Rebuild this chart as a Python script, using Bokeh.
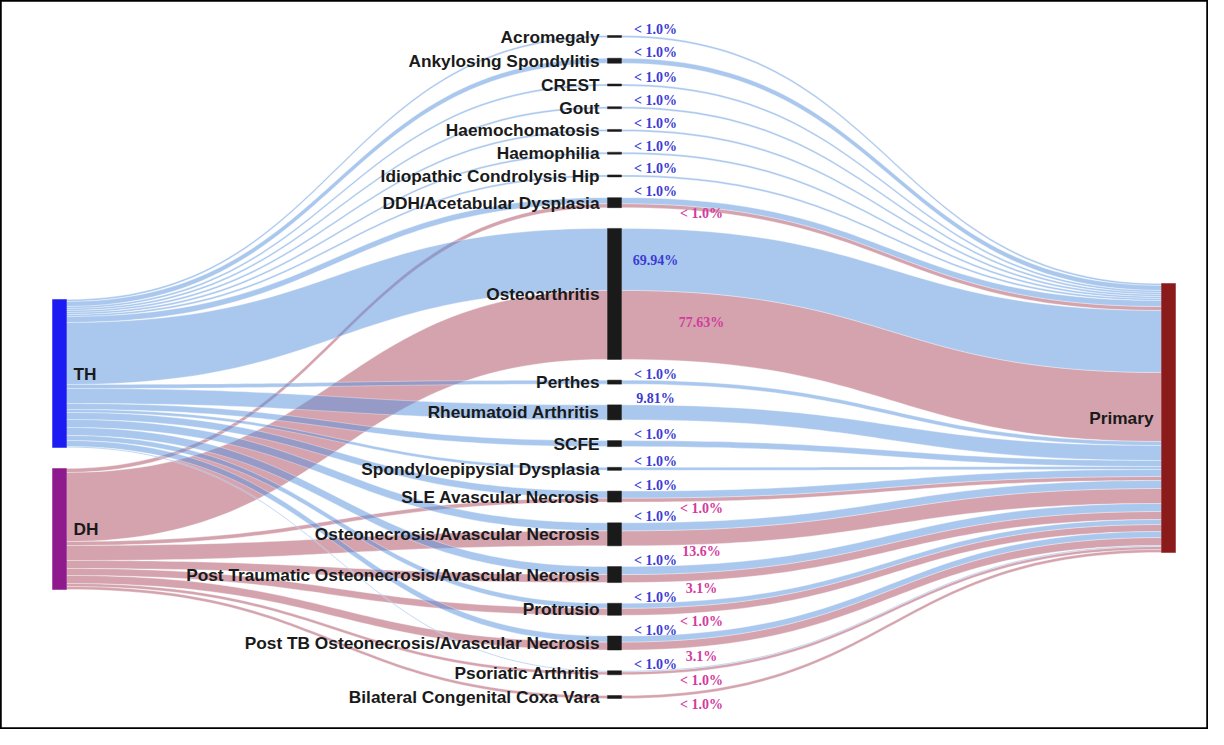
import numpy as np
from bokeh.plotting import figure
from bokeh.models import Range1d, ColumnDataSource
from bokeh.core.properties import value
from bokeh.embed import file_html
from bokeh.resources import INLINE

# ---------------- data ----------------
source_names = ["TH", "DH"]
target_name = "Primary"
categories = [
    "Acromegaly", "Ankylosing Spondylitis", "CREST", "Gout", "Haemochomatosis",
    "Haemophilia", "Idiopathic Condrolysis Hip", "DDH/Acetabular Dysplasia",
    "Osteoarthritis", "Perthes", "Rheumatoid Arthritis", "SCFE",
    "Spondyloepipysial Dysplasia", "SLE Avascular Necrosis",
    "Osteonecrosis/Avascular Necrosis",
    "Post Traumatic Osteonecrosis/Avascular Necrosis", "Protrusio",
    "Post TB Osteonecrosis/Avascular Necrosis", "Psoriatic Arthritis",
    "Bilateral Congenital Coxa Vara",
]
th_values = [2, 5, 2, 2, 2, 2, 2, 6, 62, 4, 15, 6, 3, 7, 8, 8, 5, 6, 1, 0]
dh_values = [0, 0, 0, 0, 0, 0, 0, 4, 69, 0, 0, 0, 0, 4, 15, 8, 7, 8, 3, 3]
th_pct = ["< 1.0%", "< 1.0%", "< 1.0%", "< 1.0%", "< 1.0%", "< 1.0%", "< 1.0%",
          "< 1.0%", "69.94%", "< 1.0%", "9.81%", "< 1.0%", "< 1.0%", "< 1.0%",
          "< 1.0%", "< 1.0%", "< 1.0%", "< 1.0%", "< 1.0%", ""]
dh_pct = ["", "", "", "", "", "", "", "< 1.0%", "77.63%", "", "", "", "",
          "< 1.0%", "13.6%", "3.1%", "< 1.0%", "3.1%", "< 1.0%", "< 1.0%"]

# ---------------- layout constants ----------------
W, H = 1208, 729
NODE_W = 14
X_LEFT, X_MID, X_RIGHT = 52, 607, 1161
MID_TOP, MID_BOTTOM = 35, 698
LEFT_TOP, LEFT_PAD = 299, 21
RIGHT_TOP = 283

BLUE_LINK = (85, 145, 221)
PINK_LINK = (169, 71, 93)
LINK_ALPHA = 0.5

n = len(categories)
th = np.array(th_values, dtype=float)
dh = np.array(dh_values, dtype=float)
mid_size = th + dh
pad = (MID_BOTTOM - MID_TOP - mid_size.sum()) / (n - 1)
mid_top = MID_TOP + np.concatenate([[0], np.cumsum(mid_size[:-1] + pad)])
mid_bot = mid_top + mid_size

th_top = LEFT_TOP
th_bot = th_top + th.sum()
dh_top = th_bot + LEFT_PAD
dh_bot = dh_top + dh.sum()
pr_top = RIGHT_TOP
pr_bot = pr_top + mid_size.sum()

t = np.linspace(0, 1, 60)


def bez(x0, x1, y0, y1):
    xm = (x0 + x1) / 2
    bx = (1 - t) ** 3 * x0 + 3 * (1 - t) ** 2 * t * xm + 3 * (1 - t) * t ** 2 * xm + t ** 3 * x1
    by = (1 - t) ** 3 * y0 + 3 * (1 - t) ** 2 * t * y0 + 3 * (1 - t) * t ** 2 * y1 + t ** 3 * y1
    return bx, by


def band(x0, x1, ys0, ys1, v):
    xa, ya = bez(x0, x1, ys0, ys1)
    xb, yb = bez(x0, x1, ys0 + v, ys1 + v)
    return list(np.concatenate([xa, xb[::-1]])), list(np.concatenate([ya, yb[::-1]]))


links = {"xs": [], "ys": [], "color": []}


def add_link(x0, x1, y0, y1, v, col):
    xs, ys = band(x0, x1, y0, y1, v)
    links["xs"].append(xs)
    links["ys"].append(ys)
    links["color"].append("#%02x%02x%02x" % col)


# left links: DH (pink) drawn first, then TH (blue) on top
cur = dh_top
for i in range(n):
    if dh[i] > 0:
        add_link(X_LEFT + NODE_W, X_MID, cur, mid_top[i] + th[i], dh[i], PINK_LINK)
        cur += dh[i]
cur = th_top
for i in range(n):
    if th[i] > 0:
        add_link(X_LEFT + NODE_W, X_MID, cur, mid_top[i], th[i], BLUE_LINK)
        cur += th[i]

# right links: middle -> Primary
cur = pr_top
right_pink, right_blue = [], []
for i in range(n):
    if th[i] > 0:
        right_blue.append((mid_top[i], cur, th[i]))
        cur += th[i]
    if dh[i] > 0:
        right_pink.append((mid_top[i] + th[i], cur, dh[i]))
        cur += dh[i]
for y0, y1, v in right_pink:
    add_link(X_MID + NODE_W, X_RIGHT, y0, y1, v, PINK_LINK)
for y0, y1, v in right_blue:
    add_link(X_MID + NODE_W, X_RIGHT, y0, y1, v, BLUE_LINK)

p = figure(width=W, height=H, x_range=Range1d(0, W), y_range=Range1d(H, 0),
           output_backend="svg", toolbar_location=None, min_border=0,
           x_axis_location=None, y_axis_location=None)
p.grid.visible = False
p.outline_line_color = "black"
p.outline_line_width = 2.5
p.background_fill_color = "white"

p.patches("xs", "ys", source=ColumnDataSource(links), fill_color="color",
          fill_alpha=LINK_ALPHA, line_color="white", line_width=0.5, line_alpha=0.7)

# nodes
node_src = ColumnDataSource(dict(
    left=[X_LEFT, X_LEFT, X_RIGHT] + [X_MID] * n,
    right=[X_LEFT + NODE_W, X_LEFT + NODE_W, X_RIGHT + NODE_W] + [X_MID + NODE_W] * n,
    top=[th_top, dh_top, pr_top] + list(mid_top),
    bottom=[th_bot, dh_bot, pr_bot] + list(mid_bot),
    color=["#1c1cf2", "#8e1a8e", "#8b1a1a"] + ["#1a1a1a"] * n,
))
p.quad(left="left", right="right", top="top", bottom="bottom", source=node_src,
       fill_color="color", line_color="color", line_width=0.5)

# node labels
font = value("Liberation Sans")
mid_cy = (mid_top + mid_bot) / 2
p.text(x=[X_MID - 8] * n, y=list(mid_cy), text=categories, text_align="right",
       text_baseline="middle", text_font=font, text_font_style="bold",
       text_font_size="17.3px", text_color="#1a1a1a")
p.text(x=[X_LEFT + NODE_W + 7] * 2, y=[(th_top + th_bot) / 2, (dh_top + dh_bot) / 2],
       text=source_names, text_align="left", text_baseline="middle", text_font=font,
       text_font_style="bold", text_font_size="17.3px", text_color="#1a1a1a")
p.text(x=[X_RIGHT - 8], y=[(pr_top + pr_bot) / 2], text=[target_name], text_align="right",
       text_baseline="middle", text_font=font, text_font_style="bold",
       text_font_size="17.3px", text_color="#1a1a1a")

# percentage labels
bx, by, bt, px_, py_, pt = [], [], [], [], [], []
for i in range(n):
    if th_pct[i]:
        bx.append(655)
        by.append(mid_top[i] + th[i] / 2 + 1 if th[i] >= 20 else mid_top[i] - 6)
        bt.append(th_pct[i])
    if dh_pct[i]:
        px_.append(701)
        py_.append(mid_top[i] + th[i] + dh[i] / 2 - 2 if dh[i] >= 20 else mid_bot[i] + 6)
        pt.append(dh_pct[i])
serif = value("Liberation Serif")
p.text(x=bx, y=by, text=bt, text_align="center", text_baseline="middle", text_font=serif,
       text_font_style="bold", text_font_size="14px", text_color="#3b3bd4")
p.text(x=px_, y=py_, text=pt, text_align="center", text_baseline="middle", text_font=serif,
       text_font_style="bold", text_font_size="14px", text_color="#d23c9e")

open("out.html", "w").write(file_html(p, INLINE))
